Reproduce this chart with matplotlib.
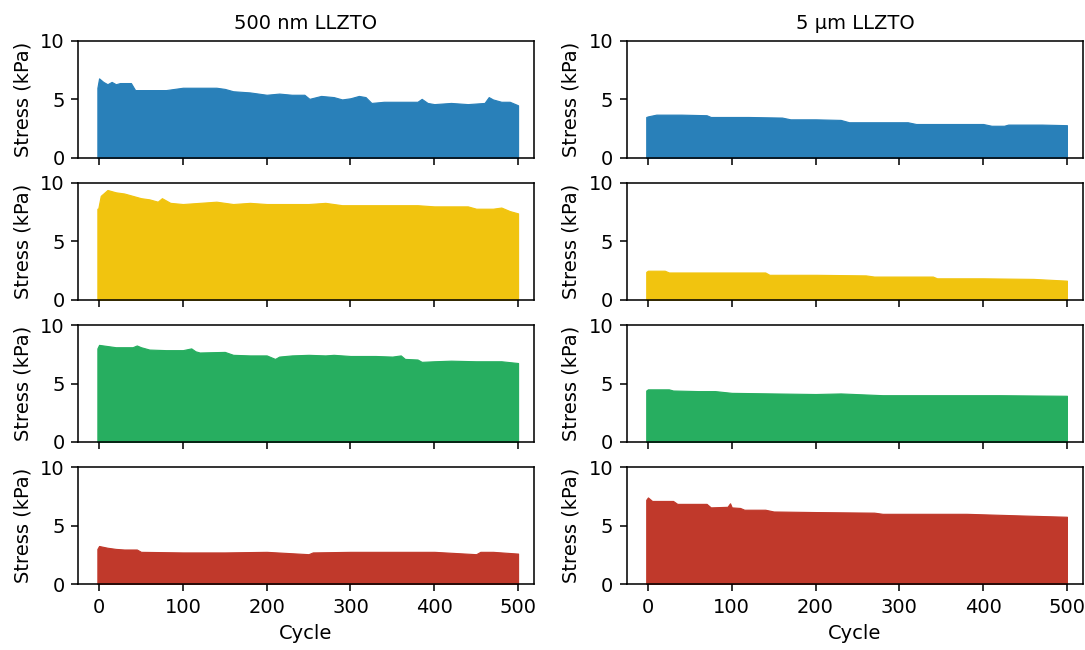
import matplotlib
matplotlib.use("Agg")
import matplotlib.pyplot as plt

# peak stress per cycle (kPa), left column = 500 nm LLZTO, right = 5 um LLZTO
nm_blue_cyc = [-2, -2, 0, 5, 10, 15, 20, 25, 30, 38, 43, 60, 80, 100, 120, 140, 150, 160, 180, 200,
               215, 230, 245, 251, 265, 280, 290, 300, 310, 318, 325, 340, 360, 380, 385, 392,
               400, 420, 440, 460, 465, 470, 480, 490, 500]
nm_blue_pk = [4.0, 6.0, 6.8, 6.5, 6.3, 6.5, 6.3, 6.4, 6.4, 6.4, 5.8, 5.8, 5.8, 6.0, 6.0, 6.0, 5.9, 5.7, 5.6, 5.4,
              5.5, 5.4, 5.4, 5.05, 5.3, 5.2, 5.0, 5.1, 5.3, 5.2, 4.7, 4.8, 4.8, 4.8, 5.05, 4.7,
              4.6, 4.7, 4.6, 4.7, 5.2, 5.0, 4.8, 4.8, 4.5]

nm_yellow_cyc = [-2, -2, -1, 2, 10, 20, 30, 40, 50, 60, 70, 75, 80, 85, 100, 120, 140, 160, 180, 200,
                 220, 250, 270, 290, 320, 350, 380, 400, 420, 440, 450, 470, 480, 490, 500]
nm_yellow_pk = [5.1, 7.8, 7.8, 8.9, 9.4, 9.2, 9.1, 8.9, 8.7, 8.6, 8.4, 8.7, 8.5, 8.3, 8.2, 8.3, 8.4, 8.2, 8.3, 8.2,
                8.2, 8.2, 8.3, 8.1, 8.1, 8.1, 8.1, 8.0, 8.0, 8.0, 7.8, 7.8, 7.9, 7.6, 7.4]

nm_green_cyc = [-2, -2, 0, 20, 40, 45, 50, 60, 80, 100, 110, 115, 120, 150, 160, 180, 200, 210, 215, 230,
                250, 270, 280, 300, 330, 350, 360, 365, 380, 385, 400, 420, 450, 480, 500]
nm_green_pk = [2.7, 8.0, 8.3, 8.1, 8.1, 8.25, 8.1, 7.9, 7.85, 7.85, 8.0, 7.75, 7.65, 7.7, 7.45, 7.4, 7.4, 7.1, 7.3, 7.4,
               7.45, 7.4, 7.45, 7.35, 7.35, 7.3, 7.4, 7.1, 7.05, 6.85, 6.9, 6.95, 6.9, 6.9, 6.75]

nm_red_cyc = [-2, -2, 0, 10, 20, 30, 45, 50, 100, 150, 200, 250, 255, 300, 350, 400, 450, 455, 470, 500]
nm_red_pk = [1.4, 3.0, 3.25, 3.1, 3.0, 2.95, 2.95, 2.75, 2.7, 2.7, 2.75, 2.55, 2.7, 2.75, 2.75, 2.75, 2.55, 2.75, 2.75, 2.6]

um_blue_cyc = [-2, -2, 0, 10, 40, 70, 75, 120, 160, 170, 200, 230, 240, 280, 310, 320, 360, 400, 410, 425,
               430, 470, 500]
um_blue_pk = [2.3, 3.5, 3.55, 3.7, 3.7, 3.65, 3.5, 3.5, 3.45, 3.3, 3.3, 3.25, 3.05, 3.05, 3.05, 2.9, 2.9, 2.9, 2.75, 2.75,
              2.85, 2.85, 2.8]

um_yellow_cyc = [-2, -2, 0, 20, 25, 80, 140, 145, 200, 260, 270, 340, 345, 400, 460, 500]
um_yellow_pk = [1.5, 2.4, 2.5, 2.5, 2.35, 2.35, 2.35, 2.15, 2.15, 2.1, 2.0, 2.0, 1.85, 1.85, 1.8, 1.65]

um_green_cyc = [-2, -2, 0, 25, 30, 60, 80, 100, 150, 200, 230, 280, 350, 420, 500]
um_green_pk = [2.7, 4.4, 4.5, 4.5, 4.4, 4.35, 4.35, 4.2, 4.15, 4.1, 4.15, 4.0, 4.0, 4.0, 3.95]

um_red_cyc = [-2, -2, 0, 5, 30, 35, 70, 75, 95, 98, 100, 110, 115, 140, 150, 200, 270, 280, 380, 450, 500]
um_red_pk = [4.0, 7.2, 7.4, 7.1, 7.1, 6.85, 6.85, 6.55, 6.6, 6.9, 6.55, 6.5, 6.35, 6.35, 6.2, 6.15, 6.1, 6.0, 6.0, 5.85, 5.75]

col_titles = ["500 nm LLZTO", "5 µm LLZTO"]
colors = ["#2980b9", "#f1c40f", "#27ae60", "#c0392b"]

left = [(nm_blue_cyc, nm_blue_pk), (nm_yellow_cyc, nm_yellow_pk),
        (nm_green_cyc, nm_green_pk), (nm_red_cyc, nm_red_pk)]
right = [(um_blue_cyc, um_blue_pk), (um_yellow_cyc, um_yellow_pk),
         (um_green_cyc, um_green_pk), (um_red_cyc, um_red_pk)]

fig, axes = plt.subplots(4, 2, figsize=(7.75, 650 / 140), dpi=140, sharex=True)
fig.subplots_adjust(left=0.072, right=0.998, top=0.937, bottom=0.1015,
                    wspace=0.204, hspace=0.214)

for col, runs in enumerate([left, right]):
    for row, (cyc, pk) in enumerate(runs):
        ax = axes[row, col]
        ax.fill_between(cyc, 0, pk, color=colors[row], linewidth=0.6,
                        edgecolor=colors[row])
        ax.set_ylim(0, 10)
        ax.set_yticks([0, 5, 10])
        ax.set_ylabel("Stress (kPa)")
        if row == 0:
            ax.set_title(col_titles[col], fontsize=10)
    axes[3, col].set_xlabel("Cycle")
    axes[3, col].set_xticks([0, 100, 200, 300, 400, 500])
    axes[3, col].set_xlim(-25, 519)

fig.savefig("out.png", dpi=140)
